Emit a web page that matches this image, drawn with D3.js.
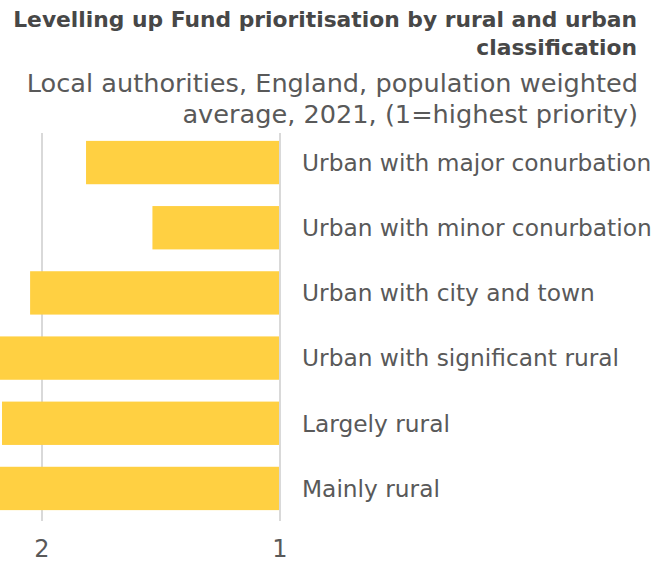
<!DOCTYPE html>
<html>
<head>
<meta charset="utf-8">
<script src="https://cdn.jsdelivr.net/npm/d3@7"></script>
<style>
  html, body { margin: 0; padding: 0; background: #fff; }
  svg { display: block; }
  text { font-family: "DejaVu Sans", sans-serif; }
</style>
</head>
<body>
<svg id="chart" width="652" height="568"></svg>
<script>
const categories = [
  "Urban with major conurbation",
  "Urban with minor conurbation",
  "Urban with city and town",
  "Urban with significant rural",
  "Largely rural",
  "Mainly rural"
];
const values = [1.815, 1.536, 2.05, 2.2, 2.168, 2.2];
const tickValues = [2, 1];
const tickLabels = ["2", "1"];
const titleLines = ["Levelling up Fund prioritisation by rural and urban", "classification"];
const subtitleLines = ["Local authorities, England, population weighted", "average, 2021, (1=highest priority)"];

const W = 652, H = 568;
const svg = d3.select("#chart");

const x = d3.scaleLinear().domain([1, 2]).range([280, 42]);
const y = d3.scaleBand().domain(categories).range([130, 521]).paddingInner(0.335).paddingOuter(0.167);

// title
svg.append("g").selectAll("text").data(titleLines).join("text")
  .attr("x", 637).attr("y", (d, i) => 27 + i * 28)
  .attr("text-anchor", "end")
  .attr("font-size", 21.8).attr("font-weight", "bold").attr("fill", "#474747")
  .text(d => d);

svg.append("g").selectAll("text").data(subtitleLines).join("text")
  .attr("x", 638).attr("y", (d, i) => 92 + i * 31)
  .attr("text-anchor", "end")
  .attr("font-size", 25.6).attr("fill", "#595959")
  .text(d => d);

// grid
svg.append("g").selectAll("line").data(tickValues).join("line")
  .attr("x1", d => x(d)).attr("x2", d => x(d))
  .attr("y1", 133).attr("y2", 521)
  .attr("stroke", "#d9d9d9").attr("stroke-width", 2);

// bars
svg.append("g").selectAll("rect").data(categories).join("rect")
  .attr("x", (d, i) => Math.min(x(values[i]), x(1)))
  .attr("width", (d, i) => Math.abs(x(1) - x(values[i])) - 1)
  .attr("y", d => y(d))
  .attr("height", y.bandwidth())
  .attr("fill", "#ffd042");

// category labels
svg.append("g").selectAll("text").data(categories).join("text")
  .attr("x", 302)
  .attr("y", d => y(d) + y.bandwidth() / 2)
  .attr("dy", "0.36em")
  .attr("font-size", 23.3).attr("fill", "#595959")
  .text(d => d);

// ticks
svg.append("g").selectAll("text").data(tickValues).join("text")
  .attr("x", d => x(d)).attr("y", 557)
  .attr("text-anchor", "middle")
  .attr("font-size", 24).attr("fill", "#595959")
  .text((d, i) => tickLabels[i]);
</script>
</body>
</html>
